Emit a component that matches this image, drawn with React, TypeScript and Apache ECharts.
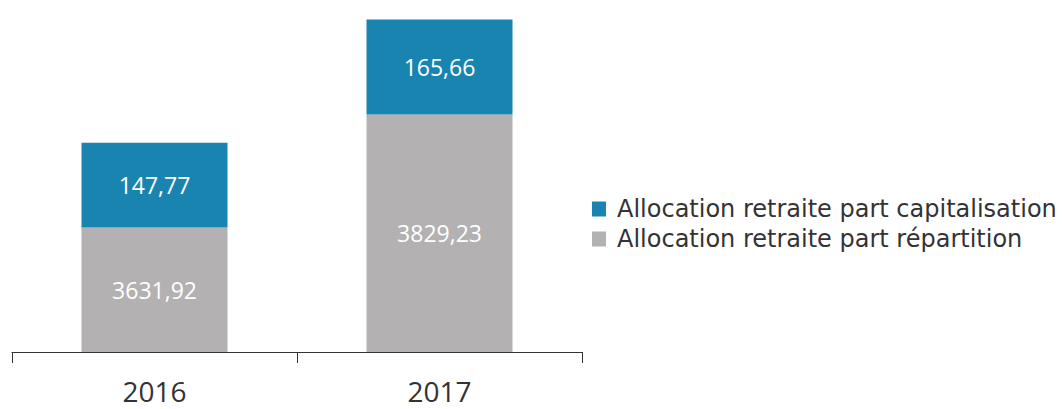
import React, { useEffect, useRef } from "react";
import * as echarts from "echarts";

const categories = ["2016", "2017"];
const repartition = [3631.92, 3829.23];
const capitalisation = [147.77, 165.66];
const seriesNames = ["Allocation retraite part capitalisation", "Allocation retraite part répartition"];
const yMin = 3415;
const yMax = 4000;

const fmt = (v: number) => v.toFixed(2).replace(".", ",");

export default function App() {
  const ref = useRef<HTMLDivElement>(null);
  useEffect(() => {
    if (!ref.current) return;
    const chart = echarts.init(ref.current, undefined, { renderer: "svg" });
    const font = "'Open Sans', Lato, sans-serif";
    chart.setOption({
      animation: false,
      textStyle: { fontFamily: font },
      grid: { left: 12, right: 481, top: 16.5, bottom: 57, containLabel: false },
      legend: {
        orient: "vertical",
        left: 592,
        top: 197,
        icon: "rect",
        itemWidth: 14,
        itemHeight: 15,
        itemGap: 6,
        padding: 0,
        data: [seriesNames[0], seriesNames[1]],
        textStyle: {
          fontSize: 24,
          lineHeight: 24,
          color: "#333333",
          fontFamily: "'DejaVu Sans', sans-serif",
          padding: [0, 0, 0, 6],
        },
      },
      xAxis: {
        type: "category",
        data: categories,
        axisLine: { show: true, lineStyle: { color: "#333333", width: 1 } },
        axisTick: { show: true, length: 11, lineStyle: { color: "#333333" } },
        axisLabel: { fontSize: 28, lineHeight: 24, color: "#333333", margin: 27, fontFamily: font },
      },
      yAxis: {
        type: "value",
        min: yMin,
        max: yMax,
        show: false,
        splitLine: { show: false },
      },
      series: [
        {
          name: seriesNames[1],
          type: "bar",
          stack: "total",
          data: repartition,
          barWidth: 146,
          itemStyle: { color: "#b3b1b2" },
          label: {
            show: true,
            position: "inside",
            color: "#ffffff",
            fontSize: 23,
            fontFamily: font,
            formatter: (p: any) => fmt(p.value),
          },
        },
        {
          name: seriesNames[0],
          type: "bar",
          stack: "total",
          data: capitalisation,
          barWidth: 146,
          itemStyle: { color: "#1a84b1" },
          label: {
            show: true,
            position: "inside",
            color: "#ffffff",
            fontSize: 23,
            fontFamily: font,
            formatter: (p: any) => fmt(p.value),
          },
        },
      ],
    });
    return () => chart.dispose();
  }, []);
  return <div ref={ref} style={{ width: 1063, height: 409, position: "absolute", left: 0, top: 0 }} />;
}
